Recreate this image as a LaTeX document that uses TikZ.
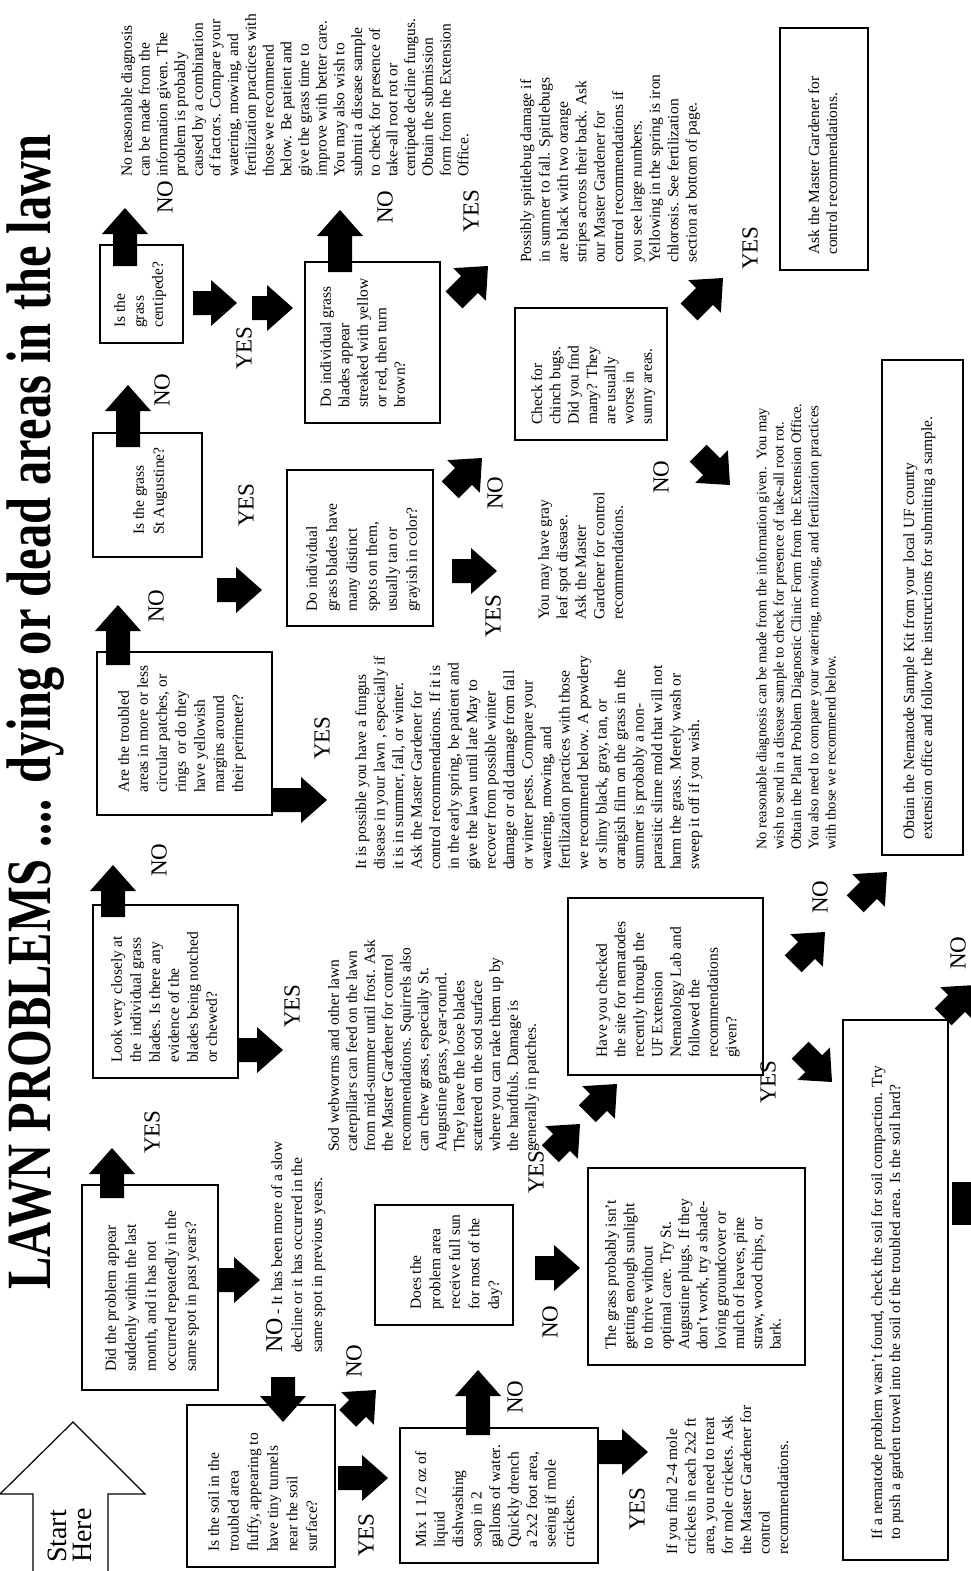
\documentclass[tikz,border=0pt]{standalone}
\usepackage{fontspec}
\setmainfont{Liberation Serif}
\usepackage{graphicx}
\newcommand\barr[4]{\fill[shift={(#1,#2)},rotate=#3] (0,0) -- (-26,23) -- (-26,12) -- (-#4,12) -- (-#4,-12) -- (-26,-12) -- (-26,-23) -- cycle;}
\begin{document}
\begin{tikzpicture}[x=1pt,y=-1pt,
  txt/.style={rotate=90,anchor=north west,align=left,inner sep=0pt,font=\fontsize{15.5}{#1}\selectfont},
  txt/.default=18.5,
  lab/.style={rotate=90,inner sep=0pt,font=\fontsize{23}{23}\selectfont},
  box/.style={draw,line width=2.5pt,inner sep=0pt},
  thinbox/.style={draw,line width=1.5pt,inner sep=0pt}]
\useasboundingbox (0,0) rectangle (971,1571);
\fill[white] (0,0) rectangle (971,1571);

% title
\node[rotate=90,anchor=base west,inner sep=0pt,font=\fontsize{63}{63}\selectfont\bfseries] (title) at (50,1290) {\scalebox{0.77}[1]{LAWN PROBLEMS .... dying or dead areas in the lawn}};

% start arrow
\draw[line width=1.2pt] (33,1571) -- (33,1494) -- (0,1494) -- (73,1422) -- (145,1494) -- (108,1494) -- (108,1571);
\node[txt,font=\fontsize{28}{25}\selectfont] (start) at (48,1563) {Start\\Here};

% boxes
\node[box,minimum width=136pt,minimum height=205pt] (bA) at (150,1287.5) {};
\node[box,minimum width=148pt,minimum height=162pt] (bB) at (261,1486) {};
\node[box,minimum width=145pt,minimum height=173pt] (bC) at (165.5,991.5) {};
\node[box,minimum width=175pt,minimum height=163pt] (bD) at (184.5,733.5) {};
\node[box,minimum width=109pt,minimum height=124pt] (bE) at (147.5,495) {};
\node[box,minimum width=146pt,minimum height=156pt] (bF) at (360,548) {};
\node[box,minimum width=135pt,minimum height=161pt] (bG) at (372.5,342.5) {};
\node[box,minimum width=83pt,minimum height=98pt] (bP) at (141.5,294) {};
\node[box,minimum width=152pt,minimum height=132pt] (bH) at (591,374) {};
\node[thinbox,minimum width=88pt,minimum height=242pt] (bI) at (824,149) {};
\node[box,minimum width=195pt,minimum height=177pt] (bJ) at (665.5,986.5) {};
\node[box,minimum width=198pt,minimum height=135pt] (bK) at (499,1495.5) {};
\node[box,minimum width=138pt,minimum height=120pt] (bL) at (444,1265) {};
\node[box,minimum width=217pt,minimum height=197pt] (bM) at (696.5,1266.5) {};
\node[box,minimum width=105pt,minimum height=540pt] (bN) at (895.5,1290) {};
\node[thinbox,minimum width=81pt,minimum height=495pt] (bO) at (922.5,607.5) {};

% box texts
\node[txt={20}] (tA) at (105,1372) {Did the problem appear\\suddenly within the last\\month, and it has not\\occurred repeatedly in the\\same spot in past years?};
\node[txt={19.6}] (tB) at (208,1552) {Is the soil in the\\troubled area\\fluffy, appearing to\\have tiny tunnels\\near the soil\\surface?};
\node[txt={19}] (tC) at (111,1063) {Look very closely at\\the\ \ individual grass\\blades. Is there any\\evidence of the\\blades being notched\\or chewed?};
\node[txt={19}] (tD) at (118,793) {Are the troubled\\areas in more or less\\circular patches, or\\rings\ \ or do they\\have yellowish\\margins around\\their perimeter?};
\node[txt={20}] (tE) at (133,535) {Is the grass\\St Augustine?};
\node[txt={20}] (tF) at (306,612) {Do individual\\grass blades have\\many distinct\\spots on them,\\usually tan or\\grayish in color?};
\node[txt={18.5}] (tG) at (320,408) {Do individual grass\\blades appear\\streaked with yellow\\or red, then turn\\brown?};
\node[txt={19}] (tP) at (114,328) {Is the\\grass\\centipede?};
\node[txt={18.3}] (tH) at (531,425) {Check for\\chinch bugs.\\Did you find\\many? They\\are usually\\worse in\\sunny areas.};
\node[txt={18}] (tI) at (808,255) {Ask the Master Gardener for\\control recommendations.};
\node[txt={18.5}] (tJ) at (596,1058) {Have you checked\\the site for nematodes\\recently through the\\UF Extension\\Nematology Lab and\\followed the\\recommendations\\given?};
\node[txt={18.5}] (tK) at (415,1548) {Mix 1 1/2 oz of\\liquid\\dishwashing\\soap in 2\\gallons of water.\\Quickly drench\\a 2x2 foot area,\\seeing if mole\\crickets.};
\node[txt={19.5}] (tL) at (410,1310) {Does the\\problem area\\receive full sun\\for most of the\\day?};
\node[txt={18.3}] (tM) at (605,1350) {The grass probably isn't\\getting enough sunlight\\to thrive without\\optimal care. Try St.\\Augustine plugs. If they\\don't work, try a shade-\\loving groundcover or\\mulch of leaves, pine\\straw, wood chips, or\\bark.};
\node[txt={18}] (tN) at (871,1540) {If a nematode problem wasn't found, check the soil for soil compaction. Try\\to push a garden trowel into the soil of the troubled area. Is the soil hard?};
\node[txt={18}] (tO) at (903,840) {Obtain the Nematode Sample Kit from your local UF county\\extension office and follow the instructions for submitting a sample.};

% free texts
\node[txt={17.7}] (t1) at (121,177) {No reasonable diagnosis\\can be made from the\\information given. The\\problem is probably\\caused by a combination\\of factors. Compare your\\watering, mowing, and\\fertilization practices with\\those we recommend\\below. Be patient and\\give the grass time to\\improve with better care.\\You may also wish to\\submit a disease sample\\to check for presence of\\take-all root rot or\\centipede decline fungus.\\Obtain the submission\\form from the Extension\\Office.};
\node[txt={18.4}] (t2) at (520,263) {Possibly spittlebug damage if\\in summer to fall. Spittlebugs\\are black with two orange\\stripes across their back. Ask\\our Master Gardener for\\control recommendations if\\you see large numbers.\\Yellowing in the spring is iron\\chlorosis. See fertilization\\section at bottom of page.};
\node[txt={18.5}] (t3) at (538,620) {You may have gray\\leaf spot disease.\\Ask the Master\\Gardener for control\\recommendations.};
\node[txt={18.5}] (t4) at (355,870) {It is possible you have a fungus\\disease in your lawn , especially if\\it is in summer, fall, or winter.\\Ask the Master Gardener for\\control recommendations. If it is\\in the early spring, be patient and\\give the lawn until late May to\\recover from possible winter\\damage or old damage from fall\\or winter pests. Compare your\\watering, mowing, and\\fertilization practices with those\\we recommend below. A powdery\\or slimy black, gray, tan, or\\orangish film on the grass in the\\summer is probably a non-\\parasitic slime mold that will not\\harm the grass. Merely wash or\\sweep it off if you wish.};
\node[txt={17.9}] (t5) at (328,1152) {Sod webworms and other lawn\\caterpillars can feed on the lawn\\from mid-summer until frost. Ask\\the Master Gardener for control\\recommendations. Squirrels also\\can chew grass, especially St.\\Augustine grass, year-round.\\They leave the loose blades\\scattered on the sod surface\\where you can rake them up by\\the handfuls. Damage is\\generally in patches.};
\node[txt={20}] (t6) at (266,1353) {{\fontsize{24}{24}\selectfont NO} - It has been more of a slow\\decline or it has occurred in the\\same spot in previous years.};
\node[txt={18.5}] (t7) at (666,1555) {If you find 2-4 mole\\crickets in each 2x2 ft\\area, you need to treat\\for mole crickets. Ask\\the Master Gardener for\\control\\recommendations.};
\node[txt={17.3},font=\fontsize{14.5}{17.3}\selectfont] (t8) at (756,850) {No reasonable diagnosis can be made from the information given.\ \ You may\\wish to send in a disease sample to check for presence of take-all root rot.\\Obtain the Plant Problem Diagnostic Clinic Form from the Extension Office.\\You also need to compare your watering, mowing, and fertilization practices\\with those we recommend below.};

% labels
\node[lab] (n1) at (165,197) {NO};
\node[lab] (y1) at (244,348) {YES};
\node[lab] (n2) at (385,207) {NO};
\node[lab] (y2) at (471,211) {YES};
\node[lab] (y3) at (750,248) {YES};
\node[lab] (n3) at (162,390) {NO};
\node[lab] (y4) at (246,505) {YES};
\node[lab] (n4) at (495,493) {NO};
\node[lab] (y5) at (493,616) {YES};
\node[lab] (n5) at (661,477) {NO};
\node[lab] (n6) at (156,606) {NO};
\node[lab] (y6) at (322,738) {YES};
\node[lab] (n7) at (159,860) {NO};
\node[lab] (y7) at (292,1006) {YES};
\node[lab] (y8) at (152,1132) {YES};
\node[lab] (n8) at (354,1361) {NO};
\node[lab] (y9) at (366,1535) {YES};
\node[lab] (n9) at (515,1397) {NO};
\node[lab] (y10) at (637,1509) {YES};
\node[lab] (y11) at (536,1172) {YES};
\node[lab] (n10) at (550,1322) {NO};
\node[lab] (y12) at (768,1082) {YES};
\node[lab] (n11) at (820,897) {NO};
\node[lab] (n12) at (958,953) {NO};

% block arrows
\barr{125}{208}{90}{58}
\barr{237}{303}{0}{44}
\barr{293}{308}{0}{41}
\barr{340}{210}{90}{62}
\barr{488}{266}{45}{48}
\barr{723}{278}{45}{48}
\barr{128}{385}{90}{62}
\barr{262}{590}{0}{45}
\barr{482}{458}{45}{45}
\barr{497}{571}{0}{45}
\barr{730}{485}{-45}{45}
\barr{118}{605}{90}{60}
\barr{327}{800}{0}{55}
\barr{113}{865}{90}{52}
\barr{283}{1050}{0}{45}
\barr{112}{1148}{90}{50}
\barr{260}{1280}{0}{43}
\barr{283}{1422}{-90}{45}
\barr{376}{1390}{45}{40}
\barr{388}{1478}{0}{50}
\barr{478}{1370}{90}{65}
\barr{648}{1452}{0}{50}
\barr{580}{1268}{0}{45}
\barr{580}{1124}{45}{42}
\barr{617}{1084}{45}{42}
\barr{832}{1082}{-45}{45}
\barr{825}{932}{45}{45}
\barr{887}{872}{45}{45}
\barr{975}{985}{45}{45}
\fill (952,1182) rectangle (971,1225);
\end{tikzpicture}
\end{document}
